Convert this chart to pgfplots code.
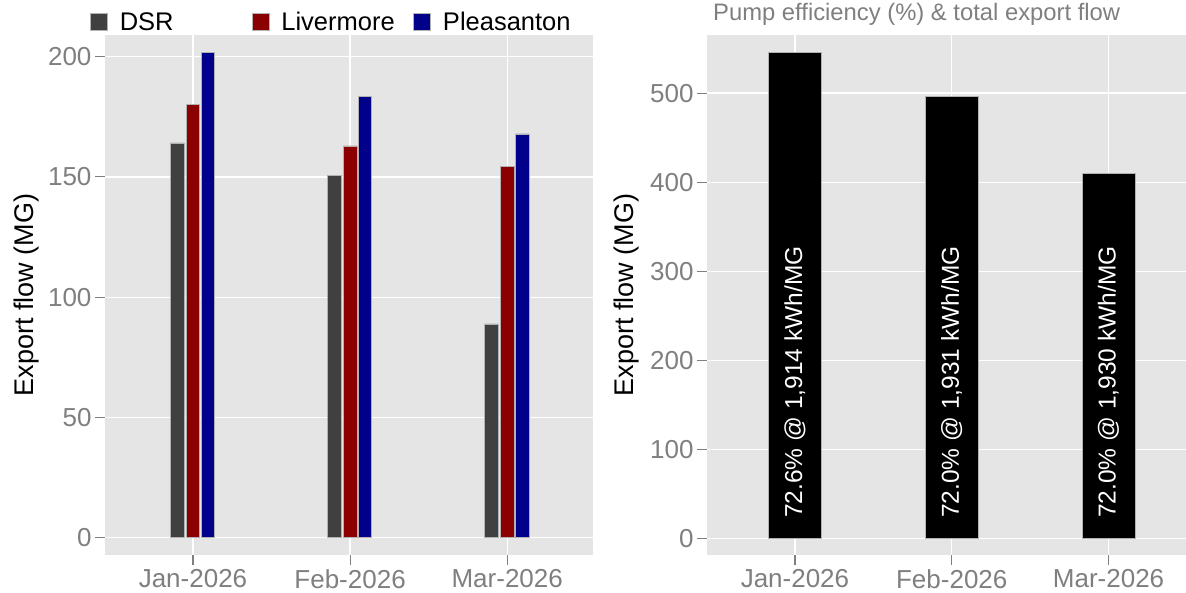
\documentclass[border=0pt]{standalone}
\usepackage{fontspec}
\setmainfont{Liberation Sans}
\usepackage{pgfplots}
\pgfplotsset{compat=1.18}
\definecolor{panel}{HTML}{E5E5E5}
\definecolor{tickgray}{HTML}{7F7F7F}
\definecolor{dsr}{HTML}{404040}
\definecolor{liv}{HTML}{8B0000}
\definecolor{ple}{HTML}{00008B}
\pgfplotsset{gg/.style={
  scale only axis, anchor=south west,
  axis background/.style={fill=panel},
  axis line style={draw=none},
  tick pos=left, tick align=outside,
  major tick length=10pt,
  every tick/.style={tickgray, line width=1.1pt},
  grid=major, major grid style={white, line width=1.3pt},
  tick label style={font=\fontsize{26}{31}\selectfont, text=tickgray},
  xticklabel style={yshift=-1pt},
  /pgf/number format/assume math mode=true,
  ylabel style={font=\fontsize{27}{32}\selectfont, at={(axis description cs:-0.161,0.5)}, anchor=center},
  xtick={0,1,2}, xticklabels={Jan-2026,Feb-2026,Mar-2026},
  ybar,
  legend image code/.code={\fill[##1] (0pt,-8.5pt) rectangle (17pt,8.5pt);},
}}
\begin{document}
\begin{tikzpicture}
\useasboundingbox (0,0) rectangle (1186pt,593pt);
\begin{axis}[gg, at={(105pt,38pt)}, width=488pt, height=520pt,
  xmin=-0.56, xmax=2.546, ymin=-7.2, ymax=209,
  ytick={0,50,...,200},
  ylabel={Export flow (MG)},
  legend columns=3,
  legend style={at={(axis description cs:0,1)}, anchor=west, xshift=-15pt, yshift=13pt,
    draw=none, fill=none, inner sep=0pt,
    font=\fontsize{25.5}{30}\selectfont,
    nodes={inner sep=0pt},
    /tikz/every odd column/.append style={column sep=12pt},
    /tikz/every even column/.append style={column sep=0pt}},
]
\addplot[fill=dsr, draw=gray!60, line width=0.6pt, bar width=0.086, bar shift=-0.1]
  coordinates {(0,164.1) (1,150.6) (2,88.9)};
\addlegendentry{\makebox[132pt][l]{DSR}}
\addplot[fill=liv, draw=gray!60, line width=0.6pt, bar width=0.086, bar shift=0]
  coordinates {(0,180.0) (1,162.9) (2,154.4)};
\addlegendentry{\makebox[132pt][l]{Livermore}}
\addplot[fill=ple, draw=gray!60, line width=0.6pt, bar width=0.086, bar shift=0.095]
  coordinates {(0,201.8) (1,183.5) (2,167.9)};
\addlegendentry{Pleasanton}
\end{axis}
\begin{axis}[gg, at={(707pt,38pt)}, width=479pt, height=520pt,
  xmin=-0.561, xmax=2.494, ymin=-18.5, ymax=565.2,
  ytick={0,100,...,500},
  ylabel={Export flow (MG)},
  ylabel style={at={(axis description cs:-0.167,0.5)}},
  title={Pump efficiency (\%) \& total export flow},
  title style={at={(axis description cs:0,1)}, anchor=base west, xshift=6pt, yshift=8pt,
    font=\fontsize{23.8}{28}\selectfont, text=tickgray, inner sep=0pt},
]
\addplot[fill=black, draw=gray!60, line width=0.6pt, bar width=0.336, bar shift=0]
  coordinates {(0,546) (1,496) (2,410)};
\node[rotate=90, anchor=west, text=white, font=\fontsize{24.5}{29}\selectfont, inner sep=0pt] at (axis cs:0,23) {72.6\% @ 1,914 kWh/MG};
\node[rotate=90, anchor=west, text=white, font=\fontsize{24.5}{29}\selectfont, inner sep=0pt] at (axis cs:1,23) {72.0\% @ 1,931 kWh/MG};
\node[rotate=90, anchor=west, text=white, font=\fontsize{24.5}{29}\selectfont, inner sep=0pt] at (axis cs:2,23) {72.0\% @ 1,930 kWh/MG};
\end{axis}
\end{tikzpicture}
\end{document}
